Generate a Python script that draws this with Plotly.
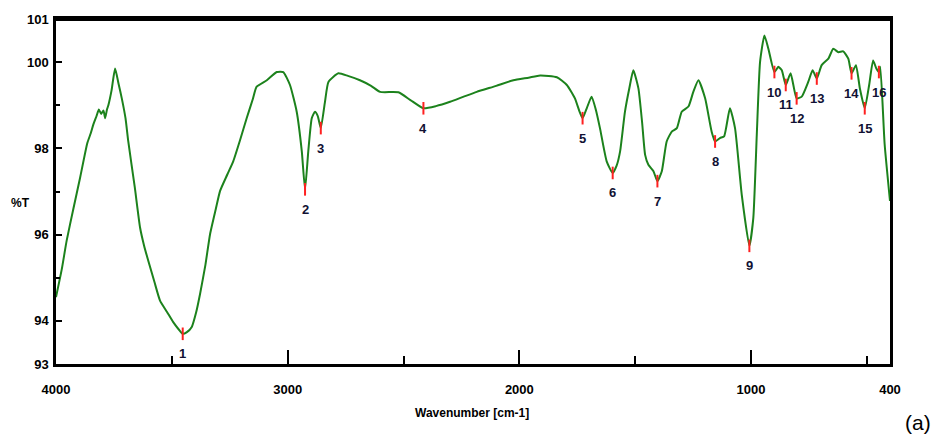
import plotly.graph_objects as go

# Spectrum (wavenumber cm-1, %T)
wavenumber = [4000, 3975, 3954, 3925, 3896, 3865, 3850, 3839, 3825, 3815, 3805, 3795, 3788, 3780, 3774,
              3760, 3745, 3730, 3716, 3700, 3688, 3660, 3637, 3620, 3602, 3575, 3551, 3520, 3494, 3470,
              3453, 3435, 3414, 3395, 3378, 3355, 3335, 3310, 3292, 3260, 3235, 3205, 3177, 3150, 3134,
              3090, 3047, 3019, 2990, 2961, 2939, 2925, 2911, 2896, 2882, 2870, 2857, 2839, 2824, 2781,
              2740, 2688, 2640, 2601, 2522, 2470, 2414, 2360, 2299, 2240, 2184, 2100, 2026, 1960, 1910,
              1838, 1795, 1760, 1740, 1727, 1709, 1688, 1670, 1652, 1623, 1597, 1580, 1565, 1544, 1525,
              1508, 1486, 1470, 1457, 1443, 1421, 1404, 1385, 1364, 1342, 1320, 1299, 1270, 1249, 1227,
              1198, 1170, 1155, 1134, 1116, 1091, 1069, 1040, 1007, 990, 975, 961, 942, 925, 899,
              882, 867, 850, 829, 803, 781, 753, 734, 716, 695, 666, 645, 623, 602, 580,
              566, 547, 530, 509, 490, 473, 459, 448, 442, 423, 400]
transmittance = [94.55, 95.20, 95.86, 96.60, 97.32, 98.12, 98.35, 98.55, 98.75, 98.90, 98.80, 98.88, 98.70, 98.90, 99.00,
                 99.35, 99.85, 99.50, 99.16, 98.70, 98.16, 97.10, 96.16, 95.75, 95.40, 94.90, 94.47, 94.20, 93.97, 93.80,
                 93.70, 93.74, 93.86, 94.20, 94.63, 95.30, 96.01, 96.60, 97.01, 97.40, 97.70, 98.20, 98.70, 99.15, 99.43,
                 99.58, 99.77, 99.77, 99.47, 98.85, 97.93, 97.05, 97.93, 98.70, 98.85, 98.75, 98.47, 99.08, 99.54, 99.74,
                 99.68, 99.58, 99.45, 99.31, 99.30, 99.12, 98.93, 98.98, 99.08, 99.20, 99.31, 99.45, 99.58, 99.64, 99.69,
                 99.65, 99.47, 99.16, 98.85, 98.70, 98.93, 99.20, 98.90, 98.47, 97.70, 97.43, 97.60, 97.93, 98.85, 99.40,
                 99.81, 99.39, 98.60, 97.85, 97.62, 97.47, 97.24, 97.47, 98.16, 98.39, 98.47, 98.85, 98.97, 99.31, 99.58,
                 99.16, 98.39, 98.16, 98.24, 98.28, 98.93, 98.47, 96.93, 95.74, 96.39, 98.32, 100.00, 100.62, 100.31, 99.77,
                 99.89, 99.81, 99.47, 99.74, 99.16, 99.20, 99.54, 99.81, 99.62, 99.93, 100.08, 100.31, 100.23, 100.25, 100.08,
                 99.74, 99.93, 99.39, 98.93, 99.47, 100.04, 99.85, 99.77, 99.89, 98.09, 96.78]

# Labelled peaks
peak_labels = ["1", "2", "3", "4", "5", "6", "7", "8", "9", "10", "11", "12", "13", "14", "15", "16"]
peak_wavenumber = [3453, 2925, 2857, 2414, 1727, 1597, 1404, 1155, 1007, 899, 850, 803, 716, 566, 509, 448]
peak_transmittance = [93.70, 97.05, 98.47, 98.93, 98.70, 97.43, 97.24, 98.16, 95.74, 99.77, 99.47, 99.16, 99.62, 99.74, 98.93, 99.77]

x_tickvals = [4000, 3000, 2000, 1000, 400]
x_minor = [3500, 2500, 1500, 500]
y_tickvals = [93, 94, 96, 98, 100, 101]
y_minor = [95, 97, 99]

FONT = "Liberation Sans Narrow, Arial Narrow, Liberation Sans, Arial, sans-serif"

fig = go.Figure()
fig.add_trace(go.Scatter(
    x=wavenumber, y=transmittance, mode="lines",
    line=dict(color="#1c821c", width=2, shape="spline", smoothing=0.5),
    hoverinfo="skip", showlegend=False))
fig.add_trace(go.Scatter(
    x=peak_wavenumber, y=peak_transmittance, mode="markers",
    marker=dict(symbol="line-ns", size=9, line=dict(color="#ff2020", width=2)),
    showlegend=False))

for lab, xw, yt in zip(peak_labels, peak_wavenumber, peak_transmittance):
    fig.add_annotation(x=xw, y=yt, text=lab, showarrow=False, yshift=-20,
                       font=dict(family=FONT, size=13, color="#111133", weight="bold"))

fig.add_annotation(xref="paper", yref="paper", x=-0.043, y=0.466, xanchor="center", yanchor="middle",
                   text="%T", showarrow=False,
                   font=dict(family=FONT, size=12, color="black", weight="bold"))
fig.add_annotation(xref="paper", yref="paper", x=0.499, y=-0.141, xanchor="center", yanchor="middle",
                   text="Wavenumber [cm-1]", showarrow=False,
                   font=dict(family=FONT, size=12, color="black", weight="bold"))
fig.add_annotation(xref="paper", yref="paper", x=1.034, y=-0.17, xanchor="center", yanchor="middle",
                   text="(a)", showarrow=False,
                   font=dict(family="Liberation Sans, Arial, sans-serif", size=21, color="black"))

fig.add_shape(type="line", xref="paper", yref="paper", x0=0, x1=1, y0=1, y1=1,
              line=dict(color="black", width=4))

fig.update_layout(
    width=938, height=441,
    margin=dict(l=56, r=48, t=16, b=77),
    paper_bgcolor="white", plot_bgcolor="white",
    font=dict(family=FONT, size=13, color="black"),
    xaxis=dict(range=[4000, 400], tickvals=x_tickvals, ticktext=[str(v) for v in x_tickvals],
               ticks="inside", ticklen=14, tickwidth=2, tickcolor="black",
               minor=dict(tickvals=x_minor, ticks="inside", ticklen=8, tickwidth=2, tickcolor="black"),
               showline=True, linecolor="black", linewidth=2.5, mirror=True,
               showgrid=False, zeroline=False, ticklabelstandoff=12,
               tickfont=dict(family=FONT, size=13, color="black", weight="bold")),
    yaxis=dict(range=[93, 101], tickvals=y_tickvals, ticktext=[str(v) for v in y_tickvals],
               ticks="inside", ticklen=6, tickwidth=2, tickcolor="black",
               minor=dict(tickvals=y_minor, ticks="inside", ticklen=4, tickwidth=2, tickcolor="black"),
               showline=True, linecolor="black", linewidth=2.5, mirror=True,
               showgrid=False, zeroline=False, ticklabelstandoff=2,
               tickfont=dict(family=FONT, size=13, color="black", weight="bold")),
)

fig.write_html("out.html")
